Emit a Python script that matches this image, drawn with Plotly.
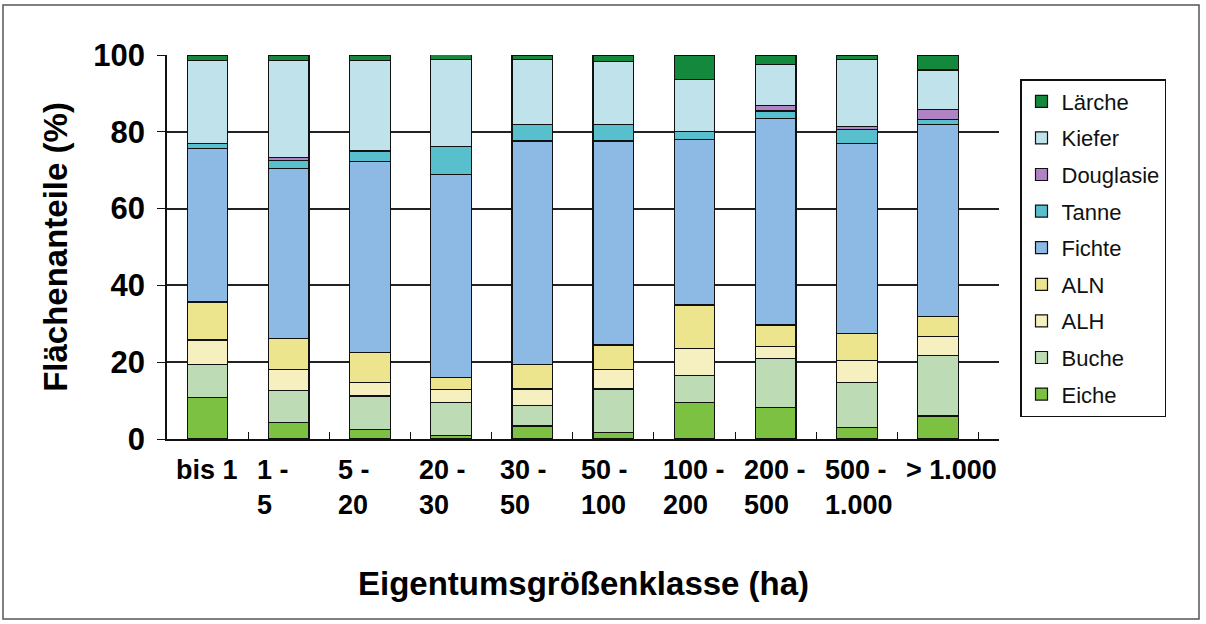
import plotly.graph_objects as go

# Eigentumsgrößenklassen (ha)
classes = ["bis 1", "1 - 5", "5 - 20", "20 - 30", "30 - 50", "50 - 100",
           "100 - 200", "200 - 500", "500 - 1.000", "> 1.000"]
class_labels = ["bis 1", "1 -<br>5", "5 -<br>20", "20 -<br>30", "30 -<br>50",
                "50 -<br>100", "100 -<br>200", "200 -<br>500", "500 -<br>1.000", "> 1.000"]

# Flächenanteile (%) je Baumart, von unten nach oben gestapelt
eiche     = [10.9, 4.3, 2.5, 1.0, 3.4, 1.6, 9.5, 8.2, 3.0, 6.0]
buche     = [8.4, 8.3, 8.7, 8.5, 5.3, 11.4, 7.0, 12.8, 11.8, 15.7]
alh       = [6.5, 5.4, 3.6, 3.4, 4.3, 5.2, 7.1, 3.0, 5.6, 4.9]
aln       = [9.9, 8.2, 7.8, 3.2, 6.3, 6.3, 11.3, 5.7, 7.1, 5.4]
fichte    = [40.0, 44.3, 49.6, 52.7, 58.3, 53.1, 43.0, 53.8, 49.5, 49.9]
tanne     = [1.3, 2.0, 2.8, 7.4, 4.4, 4.3, 2.1, 1.9, 3.6, 1.3]
douglasie = [0.0, 0.8, 0.0, 0.0, 0.0, 0.0, 0.0, 1.4, 0.7, 2.7]
kiefer    = [21.5, 25.2, 23.5, 22.6, 16.9, 16.5, 13.7, 10.8, 17.6, 10.2]
laerche   = [1.5, 1.5, 1.5, 1.3, 1.1, 1.6, 6.3, 2.4, 1.1, 3.9]

series = [
    ("Eiche", eiche, "#7cc142"),
    ("Buche", buche, "#bddcb5"),
    ("ALH", alh, "#f6f0c0"),
    ("ALN", aln, "#ede48e"),
    ("Fichte", fichte, "#8db9e5"),
    ("Tanne", tanne, "#58bfcd"),
    ("Douglasie", douglasie, "#b283c4"),
    ("Kiefer", kiefer, "#c0e3eb"),
    ("Lärche", laerche, "#14883c"),
]

FONT = "Liberation Sans, Arial, sans-serif"
L, R, T, B = 167, 207, 55, 185
W, H = 1206, 624
PW, PH = W - L - R, H - T - B


def px_x(x):  # pixel -> paper
    return (x - L) / PW


def px_y(y):
    return (H - B - y) / PH


fig = go.Figure()
for i, (name, vals, col) in enumerate(series):
    fig.add_trace(go.Bar(x=classes, y=vals, name=name, legendgroup=name,
                         legendrank=len(series) - i,  # Lärche on top of the legend
                         marker=dict(color=col, line=dict(color="#111", width=1.2))))

# x tick labels, left aligned like the original
for c, lab in zip(classes, class_labels):
    fig.add_annotation(x=c, y=0, xref="x", yref="paper", text="<b>" + lab + "</b>",
                       xanchor="left", yanchor="top", xshift=-34, yshift=-14,
                       align="left", showarrow=False,
                       font=dict(family=FONT, size=27, color="#000"))

fig.add_annotation(x=0.5, y=px_y(583), xref="paper", yref="paper",
                   text="<b>Eigentumsgrößenklasse (ha)</b>", showarrow=False,
                   xanchor="center", yanchor="middle",
                   font=dict(family=FONT, size=33, color="#000"))

# outer frame
fig.add_shape(type="rect", xref="paper", yref="paper",
              x0=px_x(3), x1=px_x(1199), y0=px_y(619), y1=px_y(5),
              line=dict(color="#555", width=1.5))

fig.update_layout(
    width=W, height=H,
    margin=dict(l=L, r=R, t=T, b=B),
    paper_bgcolor="white", plot_bgcolor="white",
    barmode="stack", bargap=0.5,
    font=dict(family=FONT, color="#000"),
    legend=dict(x=px_x(1020), y=px_y(79), xanchor="left", yanchor="top",
                traceorder="grouped", tracegroupgap=5,
                bordercolor="#111", borderwidth=1.5,
                font=dict(family=FONT, size=22, color="#111")),
    xaxis=dict(showticklabels=False, ticks="inside", tickson="boundaries",
               ticklen=7, tickcolor="#111", showline=True, linecolor="#111",
               linewidth=1.5, showgrid=False),
    yaxis=dict(range=[0, 100], tickvals=[0, 20, 40, 60, 80, 100],
               ticktext=["<b>%d</b>" % v for v in [0, 20, 40, 60, 80, 100]],
               ticks="outside", ticklen=8, tickcolor="#111", ticklabelstandoff=6,
               tickfont=dict(family=FONT, size=31, color="#000"),
               showgrid=True, gridcolor="#222", gridwidth=1.5,
               showline=True, linecolor="#111", linewidth=1.5, zeroline=False,
               title=dict(text="<b>Flächenanteile (%)</b>", standoff=16,
                          font=dict(family=FONT, size=33, color="#000"))),
)

fig.write_html("out.html", config={"displayModeBar": False},
               post_script="document.body.style.margin='0px';")
